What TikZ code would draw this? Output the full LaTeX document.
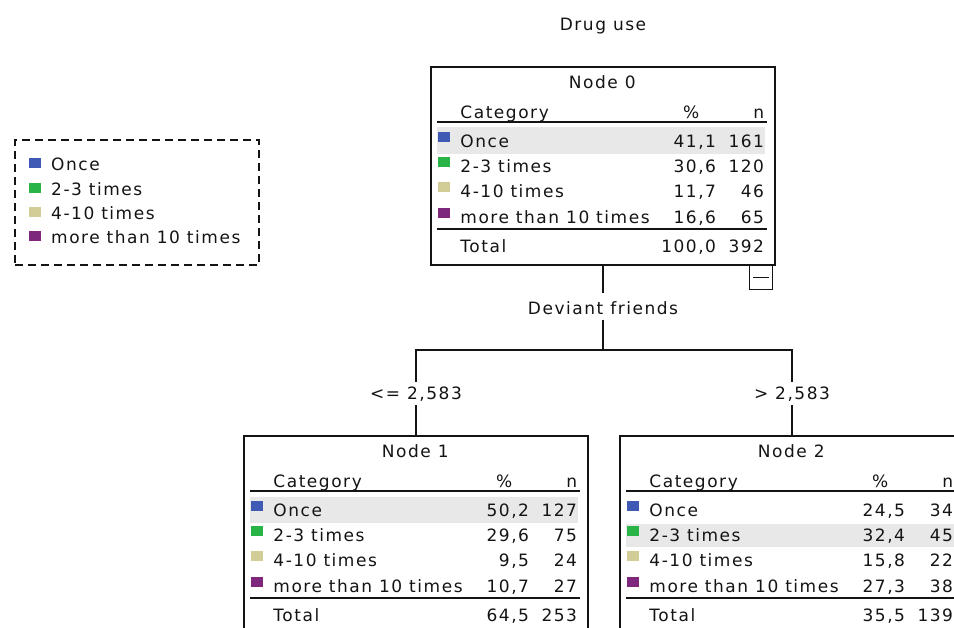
\documentclass[tikz,border=0pt]{standalone}
\usepackage{fontspec}
\setmainfont{DejaVu Sans}[LetterSpace=9]
\definecolor{cOnce}{RGB}{63,90,180}
\definecolor{cTwo}{RGB}{40,180,70}
\definecolor{cFour}{RGB}{210,205,150}
\definecolor{cMore}{RGB}{125,40,125}
\definecolor{hl}{RGB}{232,232,232}
\definecolor{ink}{RGB}{20,20,20}
\tikzset{
  txt/.style={font=\fontsize{17}{20}\selectfont, text=ink, inner sep=0pt},
  treebox/.style={draw=ink, line width=1.5pt, fill=white, minimum width=344pt, minimum height=198pt, inner sep=0pt},
  rulebar/.style={draw=ink, line width=2pt},
  conn/.style={draw=ink, line width=1.5pt},
  legendbox/.style={draw=ink, line width=1.5pt, dash pattern=on 8pt off 5pt, minimum width=244pt, minimum height=125pt, inner sep=0pt},
}
\newcommand\tabhead[1]{%
  \node[txt,anchor=base] at (172,22) {#1};
  \node[txt,anchor=base west] at (30,52) {Category};
  \node[txt,anchor=base] at (261,52) {\%};
  \node[txt,anchor=base east] at (334,52) {n};
  \draw[rulebar] (7,56) -- (337,56);
  \draw[rulebar] (7,163) -- (337,163);
}
\newcommand\tabrow[5]{%
  \fill[#2] (8,#1-15) rectangle (20,#1-5);
  \node[txt,anchor=base west] at (30,#1) {#3};
  \node[txt,anchor=base east] at (286,#1) {#4};
  \node[txt,anchor=base east] at (334,#1) {#5};
}
\newcommand\tabtotal[2]{%
  \node[txt,anchor=base west] at (30,186) {Total};
  \node[txt,anchor=base east] at (286,186) {#1};
  \node[txt,anchor=base east] at (334,186) {#2};
}
\begin{document}
\begin{tikzpicture}[x=1pt,y=-1pt]
\useasboundingbox (0,0) rectangle (954,628);
\clip (0,0) rectangle (954,628);
\fill[white] (0,0) rectangle (954,628);

\node[txt,anchor=base] (title) at (603,31) {Drug use};

% legend
\node[legendbox] (legend) at (137,202.5) {};
\begin{scope}
  \fill[cOnce] (29,158) rectangle (41,168);
  \node[txt,anchor=base west] (lg1) at (51,171) {Once};
  \fill[cTwo] (29,183) rectangle (41,193);
  \node[txt,anchor=base west] (lg2) at (51,196) {2-3 times};
  \fill[cFour] (29,207) rectangle (41,217);
  \node[txt,anchor=base west] (lg3) at (51,220) {4-10 times};
  \fill[cMore] (29,231) rectangle (41,241);
  \node[txt,anchor=base west] (lg4) at (51,244) {more than 10 times};
\end{scope}

% tree boxes
\node[treebox] (n0) at (603,166) {};
\node[treebox] (n1) at (416,535) {};
\node[treebox] (n2) at (792,535) {};

% node 0
\begin{scope}[shift={(n0.north west)}]
  \fill[hl] (7,61) rectangle (335,88);
  \tabhead{Node 0}
  \tabrow{81}{cOnce}{Once}{41,1}{161}
  \tabrow{106}{cTwo}{2-3 times}{30,6}{120}
  \tabrow{131}{cFour}{4-10 times}{11,7}{46}
  \tabrow{157}{cMore}{more than 10 times}{16,6}{65}
  \tabtotal{100,0}{392}
\end{scope}
% collapse button
\node[draw=ink, line width=1.5pt, minimum width=23pt, minimum height=24pt, inner sep=0pt, anchor=north east] (btn) at (773,265) {};
\draw[ink, line width=1.5pt] ([xshift=-8pt]btn.center) -- ([xshift=8pt]btn.center);

% node 1
\begin{scope}[shift={(n1.north west)}]
  \fill[hl] (7,62) rectangle (335,88);
  \tabhead{Node 1}
  \tabrow{81}{cOnce}{Once}{50,2}{127}
  \tabrow{106}{cTwo}{2-3 times}{29,6}{75}
  \tabrow{131}{cFour}{4-10 times}{9,5}{24}
  \tabrow{157}{cMore}{more than 10 times}{10,7}{27}
  \tabtotal{64,5}{253}
\end{scope}

% node 2
\begin{scope}[shift={(n2.north west)}]
  \fill[hl] (7,89) rectangle (335,112);
  \tabhead{Node 2}
  \tabrow{81}{cOnce}{Once}{24,5}{34}
  \tabrow{106}{cTwo}{2-3 times}{32,4}{45}
  \tabrow{131}{cFour}{4-10 times}{15,8}{22}
  \tabrow{157}{cMore}{more than 10 times}{27,3}{38}
  \tabtotal{35,5}{139}
\end{scope}

% split labels
\node[txt,anchor=base,text height=22pt,text depth=5pt] (dev) at (603,315) {Deviant friends};
\node[txt,anchor=base,text height=18pt,text depth=5pt] (le) at (416,400) {<= 2,583};
\node[txt,anchor=base,text height=18pt,text depth=5pt] (gt) at (792,400) {> 2,583};
\coordinate (split) at (603,350);

\draw[conn] (n0.south) -- (dev.north);
\draw[conn] (dev.south) -- (split);
\draw[conn] (split) -| (le.north);
\draw[conn] (split) -| (gt.north);
\draw[conn] (le.south) -- (n1.north);
\draw[conn] (gt.south) -- (n2.north);
\end{tikzpicture}
\end{document}
